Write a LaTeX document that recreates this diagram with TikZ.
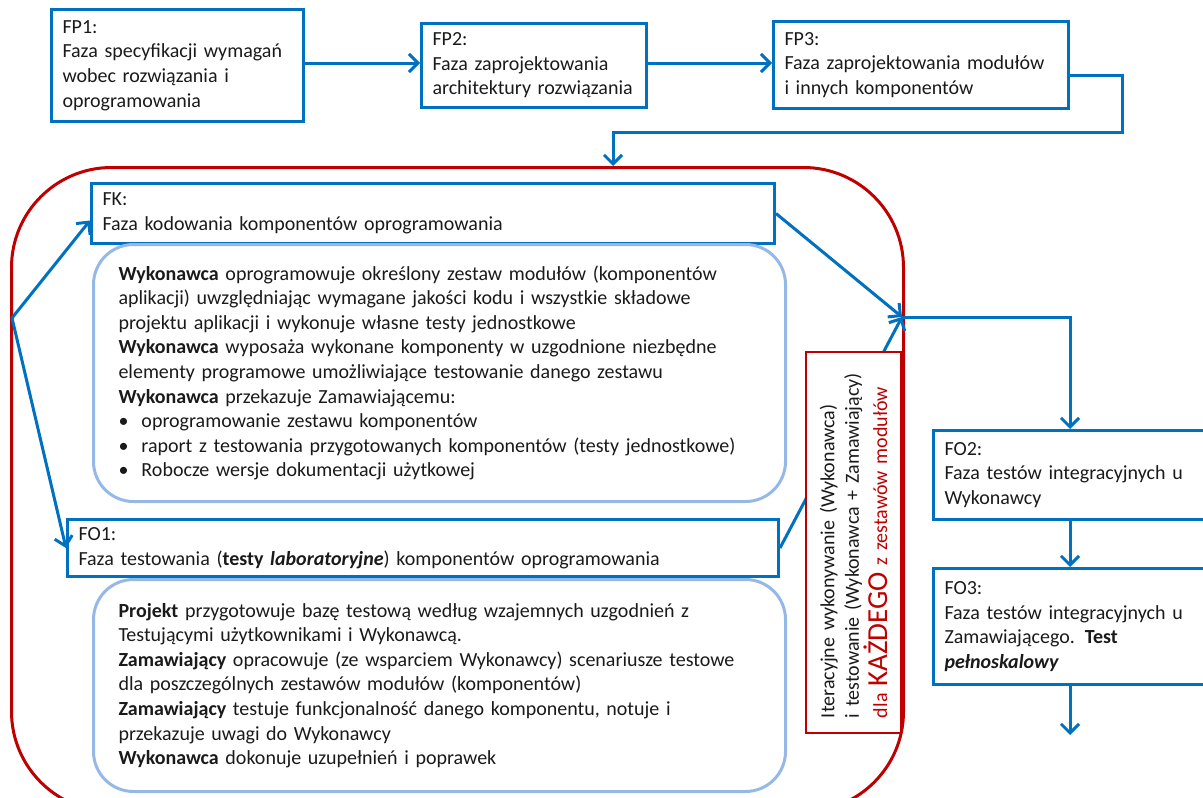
\documentclass[tikz,border=0pt]{standalone}
\usepackage{fontspec}
\setmainfont{Carlito}
\usetikzlibrary{arrows.meta}
\definecolor{fpblue}{HTML}{0070C0}
\definecolor{lightblue}{HTML}{95B8E6}
\definecolor{corered}{HTML}{C00000}
\definecolor{txt}{HTML}{1A1A1A}
\tikzset{
  phase/.style={draw=fpblue, line width=3pt, anchor=north west, align=left,
    inner xsep=11pt, inner ysep=0pt, text=txt},
  taskbox/.style={draw=lightblue, line width=3pt, rounded corners=40pt, anchor=north west,
    align=left, inner xsep=25pt, inner ysep=0pt, text=txt},
  flow/.style={draw=fpblue, line width=3pt, -{Straight Barb[length=9pt,width=18pt]}},
}
\begin{document}
\begin{tikzpicture}[x=1pt,y=-1pt,font=\fontsize{20}{24.6}\selectfont]
\useasboundingbox (0,0) rectangle (1203,798);

% outer iteration frame
\node[draw=corered, line width=3pt, rounded corners=100pt, anchor=north west,
  minimum width=892pt, minimum height=644pt, inner sep=0pt] (core) at (10,166) {};

% design phases
\node[phase, text width=230pt, minimum height=112pt] (FP1) at (50,8)
  {FP1:\\Faza specyfikacji wymagań\\wobec rozwiązania i\\oprogramowania};
\node[phase, text width=203pt, minimum height=84pt] (FP2) at (420,22)
  {FP2:\\Faza zaprojektowania\\architektury rozwiązania};
\node[phase, text width=273pt, minimum height=87pt] (FP3) at (772,20)
  {FP3:\\Faza zaprojektowania modułów\\i innych komponentów};

% coding and lab testing
\node[phase, text width=661pt, minimum height=60pt] (FK) at (90,182)
  {FK:\\Faza kodowania komponentów oprogramowania};
\node[taskbox, text width=642pt, minimum height=257pt] (FKtasks) at (92,243)
  {\textbf{Wykonawca} oprogramowuje określony zestaw modułów (komponentów\\
   aplikacji) uwzględniając wymagane jakości kodu i wszystkie składowe\\
   projektu aplikacji i wykonuje własne testy jednostkowe\\
   \textbf{Wykonawca} wyposaża wykonane komponenty w uzgodnione niezbędne\\
   elementy programowe umożliwiające testowanie danego zestawu\\
   \textbf{Wykonawca} przekazuje Zamawiającemu:\\
   \makebox[23pt][l]{•}oprogramowanie zestawu komponentów\\
   \makebox[23pt][l]{•}raport z testowania przygotowanych komponentów (testy jednostkowe)\\
   \makebox[23pt][l]{•}Robocze wersje dokumentacji użytkowej};
\node[phase, text width=689pt, minimum height=57pt] (FO1) at (66,518)
  {FO1:\\Faza testowania (\textbf{testy \textit{laboratoryjne}}) komponentów oprogramowania};
\node[taskbox, text width=642pt, minimum height=212pt] (FOtasks) at (92,578)
  {\textbf{Projekt} przygotowuje bazę testową według wzajemnych uzgodnień z\\
   Testującymi użytkownikami i Wykonawcą.\\
   \textbf{Zamawiający} opracowuje (ze wsparciem Wykonawcy) scenariusze testowe\\
   dla poszczególnych zestawów modułów (komponentów)\\
   \textbf{Zamawiający} testuje funkcjonalność danego komponentu, notuje i\\
   przekazuje uwagi do Wykonawcy\\
   \textbf{Wykonawca} dokonuje uzupełnień i poprawek};

% integration phases
\node[phase, text width=251pt, minimum height=89pt] (FO2) at (932,429)
  {FO2:\\Faza testów integracyjnych u\\Wykonawcy};
\node[phase, text width=251pt, minimum height=116pt] (FO3) at (932,567)
  {FO3:\\Faza testów integracyjnych u\\Zamawiającego. \textbf{Test}\\\textbf{\textit{pełnoskalowy}}};

\coordinate (turn) at (1122,132);
\coordinate (entry) at (613,166);
\coordinate (split) at (12,318);
\coordinate (join) at (902,317);
\coordinate (out) at (1068,735);

\draw[flow] ([yshift=-10pt]FP3.east) -| (turn) -| (entry);
\draw[flow] (FP1.east |- 0,63) -- (FP2.west |- 0,63);
\draw[flow] (FP2.east |- 0,63) -- (FP3.west |- 0,63);
\draw[flow] (split) -- ([yshift=-7pt]FK.west);
\draw[flow] (split) -- (FO1.west);
\draw[flow] (FK.east) -- (join);
\draw[flow] (FO1.east) -- (join);
\draw[flow] (join) -| (FO2.north);
\draw[flow] (FO2.south) -- (FO3.north);
\draw[flow] (FO3.south) -- (FO3.south |- out);

% iteration note
\node[draw=corered, line width=1.4pt, fill=white, rotate=90, align=left, text=txt,
  minimum width=381pt, minimum height=95pt, text width=351pt, inner sep=0pt]
  (iter) at (853.5,542.5)
  {Iteracyjne wykonywanie (Wykonawca)\\
   i testowanie (Wykonawca + Zamawiający)\\
   \textcolor{corered}{dla {\fontsize{29}{29}\selectfont KAŻDEGO} z zestawów modułów}};
\end{tikzpicture}
\end{document}
